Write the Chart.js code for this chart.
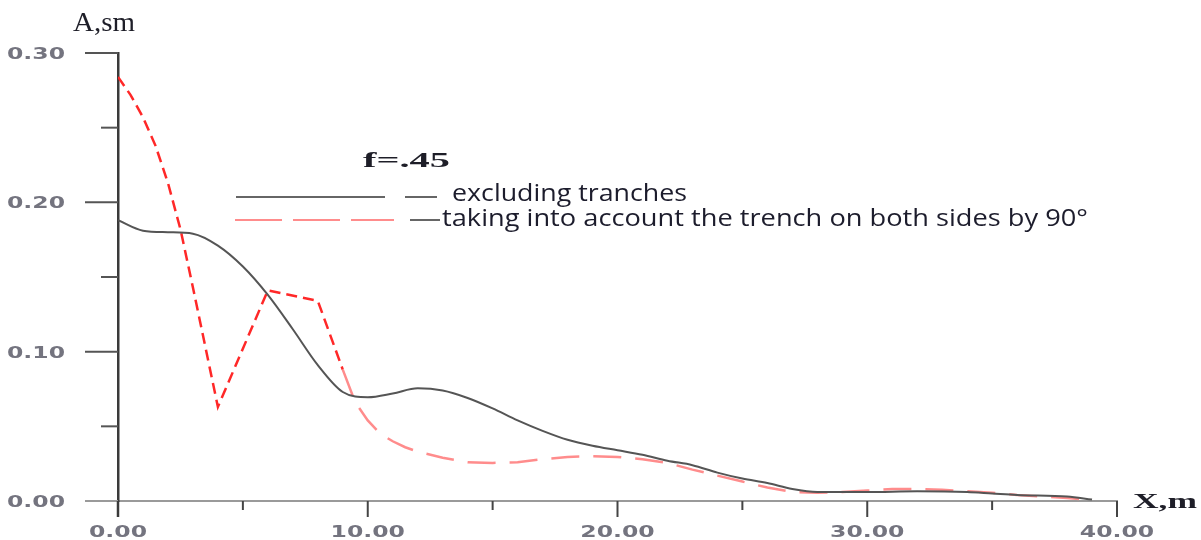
<!DOCTYPE html>
<html><head><meta charset="utf-8">
<script src="https://cdn.jsdelivr.net/npm/chart.js@4.4.0/dist/chart.umd.min.js"></script>
<style>html,body{margin:0;padding:0;background:#fff}#wrap{width:1201px;height:540px;position:relative}</style>
</head><body><div id="wrap"><canvas id="c" width="1201" height="540"></canvas></div>
<script>
// ---- data ----
const xNoTrench = [0,1,2,3,4,5,6,7,8,9,10,11,12,13,14,15,16,17,18,19,20,21,22,23,24,25,26,27,28,30,32,34,35,36,38,39];
const yNoTrench = [0.188,0.181,0.180,0.179,0.171,0.157,0.138,0.115,0.091,0.073,0.0695,0.072,0.0755,0.074,0.069,0.062,0.054,0.047,0.041,0.037,0.034,0.031,0.027,0.024,0.019,0.015,0.012,0.008,0.006,0.006,0.0065,0.006,0.005,0.004,0.003,0.001];
const xTrench = [0,0.5,1,1.5,2,2.5,3,3.5,4,6,8,9,9.5,10,10.5,11,11.5,12,13,14,15,16,17,18,19,20,21,22,23,24,25,26,27,28,29,30,31,32,33,34,35,36,37,38,39];
const yTrench = [0.284,0.272,0.257,0.238,0.213,0.182,0.143,0.103,0.063,0.141,0.134,0.088,0.066,0.054,0.045,0.040,0.036,0.033,0.029,0.026,0.0255,0.026,0.028,0.0295,0.030,0.0295,0.028,0.0255,0.021,0.017,0.013,0.009,0.006,0.0055,0.006,0.007,0.008,0.008,0.0075,0.0065,0.0055,0.004,0.003,0.002,0.0007];
const xMajorTicks = [0,10,20,30,40];
const xMinorTicks = [5,15,25,35];
const yMajorTicks = [0,0.1,0.2,0.3];
const yMinorTicks = [0.05,0.15,0.25];
const seriesLabels = ['excluding tranches','taking into account the trench on both sides by 90°'];
const paramLabel = 'f=.45';
const yTitle = 'A,sm';
const xTitle = 'X,m';

function fitText(ctx, text, x, y, w, font, color, align){
  ctx.font = font;
  const m = ctx.measureText(text).width;
  const s = w / m;
  ctx.save();
  ctx.translate(x, y);
  ctx.scale(s, 1);
  ctx.textAlign = 'left';
  ctx.textBaseline = 'alphabetic';
  ctx.fillStyle = color;
  ctx.fillText(text, align === 'right' ? -m : align === 'center' ? -m / 2 : 0, 0);
  ctx.restore();
}
function seg(ctx, x1, y1, x2, y2){ ctx.beginPath(); ctx.moveTo(x1, y1); ctx.lineTo(x2, y2); ctx.stroke(); }

const deco = {
  id: 'deco',
  afterDraw(chart){
    const ctx = chart.ctx, xs = chart.scales.x, ys = chart.scales.y;
    const x0 = xs.getPixelForValue(0), y0 = ys.getPixelForValue(0);
    ctx.save();
    ctx.lineCap = 'butt';
    // y ticks
    yMajorTicks.forEach(v => {
      const p = ys.getPixelForValue(v);
      ctx.strokeStyle = v === 0 ? '#9a9a9a' : '#555'; ctx.lineWidth = 2;
      seg(ctx, x0 - 33, p, x0, p);
    });
    yMinorTicks.forEach(v => {
      const p = ys.getPixelForValue(v);
      ctx.strokeStyle = '#555'; ctx.lineWidth = 2;
      seg(ctx, x0 - 17, p, x0, p);
    });
    // x ticks
    xMajorTicks.forEach(v => {
      const p = xs.getPixelForValue(v);
      ctx.strokeStyle = v === 0 ? '#3a3a3a' : '#444'; ctx.lineWidth = v === 0 ? 2.5 : 2;
      seg(ctx, p, y0, p, y0 + 16);
    });
    xMinorTicks.forEach(v => {
      const p = xs.getPixelForValue(v);
      ctx.strokeStyle = '#444'; ctx.lineWidth = 2;
      seg(ctx, p, y0, p, y0 + 9);
    });
    // tick labels (wide font)
    const tf = 'bold 16px "DejaVu Sans"';
    ctx.font = tf;
    const sc = 58 / ctx.measureText('0.00').width;
    const tc = '#74747f';
    yMajorTicks.forEach(v => {
      const t = v.toFixed(2);
      ctx.font = tf;
      const w = ctx.measureText(t).width * sc;
      fitText(ctx, t, 65, ys.getPixelForValue(v) + 6, w, tf, tc, 'right');
    });
    xMajorTicks.forEach(v => {
      const t = v.toFixed(2);
      ctx.font = tf;
      const w = ctx.measureText(t).width * sc;
      fitText(ctx, t, xs.getPixelForValue(v), 537, w, tf, tc, 'center');
    });
    // axis titles
    fitText(ctx, yTitle, 73, 31, 62, '27px "Liberation Serif"', '#1e1e28', 'left');
    fitText(ctx, xTitle, 1133, 508, 64, 'bold 20px "Liberation Serif"', '#1e1e28', 'left');
    // parameter label
    fitText(ctx, paramLabel, 363, 167, 87, 'bold 22px "Liberation Serif"', '#1e1e28', 'left');
    // legend
    ctx.lineWidth = 2;
    ctx.strokeStyle = '#666';
    seg(ctx, 236, 197, 385, 197);
    seg(ctx, 405, 197, 437, 197);
    ctx.strokeStyle = '#ff8c8c';
    ctx.setLineDash([47, 11]);
    seg(ctx, 235, 220, 394, 220);
    ctx.setLineDash([]);
    ctx.strokeStyle = '#666';
    seg(ctx, 410, 220, 440, 220);
    fitText(ctx, seriesLabels[0], 452, 201, 235, '24px "Open Sans"', '#1c1c2c', 'left');
    fitText(ctx, seriesLabels[1], 442, 226, 646, '24px "Open Sans"', '#1c1c2c', 'left');
    ctx.restore();
  }
};

new Chart(document.getElementById('c'), {
  type: 'line',
  data: {
    datasets: [
      {
        label: seriesLabels[0],
        data: xNoTrench.map((x, i) => ({x, y: yNoTrench[i]})),
        borderColor: '#555',
        borderWidth: 2,
        pointRadius: 0,
        cubicInterpolationMode: 'monotone',
        fill: false
      },
      {
        label: seriesLabels[1],
        data: xTrench.map((x, i) => ({x, y: yTrench[i]})),
        borderColor: '#ff2828',
        borderWidth: 2.5,
        pointRadius: 0,
        tension: 0,
        fill: false,
        segment: {
          borderColor: c => c.p0.parsed.x < 8.5 ? '#ff2828' : '#ff8c8c',
          borderDash: c => c.p0.parsed.x < 8.5 ? [11, 6] : [28, 14]
        }
      }
    ]
  },
  options: {
    responsive: false,
    animation: false,
    layout: { padding: { left: 0, top: 53, right: 84, bottom: 0 } },
    plugins: { legend: { display: false }, tooltip: { enabled: false }, title: { display: false } },
    scales: {
      x: {
        type: 'linear', min: 0, max: 40,
        grid: { display: false },
        ticks: { display: false },
        border: { display: true, color: '#9a9a9a', width: 2 },
        afterFit: s => { s.height = 39; }
      },
      y: {
        type: 'linear', min: 0, max: 0.3,
        grid: { display: false },
        ticks: { display: false },
        border: { display: true, color: '#3a3a3a', width: 2.5 },
        afterFit: s => { s.width = 118; }
      }
    }
  },
  plugins: [deco]
});
</script>
</body></html>
